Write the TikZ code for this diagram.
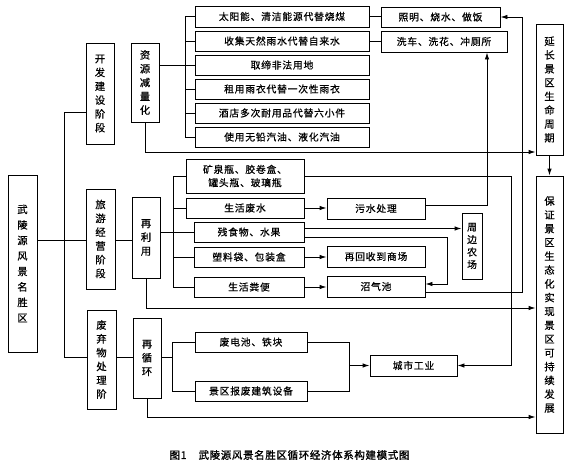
\documentclass[tikz,border=0pt]{standalone}
\usepackage{fontspec}
\newfontfamily\cjk[LetterSpace=8,FakeBold=0.6]{Noto Sans CJK SC}
\newfontfamily\cjkv[FakeBold=0.6]{Noto Sans CJK SC}
\newfontfamily\cjkc[LetterSpace=6,FakeBold=1.2]{Noto Sans CJK SC}
\usetikzlibrary{arrows.meta,calc}
\begin{document}
\begin{tikzpicture}[x=1pt,y=-1pt,
  box/.style={draw, line width=0.9pt, inner sep=0pt, align=center, font=\cjk\fontsize{9.8}{13.3}\selectfont},
  hbox/.style={box, minimum height=20pt},
  vbox/.style={box, minimum width=28pt, font=\cjkv\fontsize{10.3}{13.8}\selectfont},
  ln/.style={line width=0.9pt},
  ar/.style={line width=0.9pt, -{Latex[length=7pt,width=4.5pt]}}]
\useasboundingbox (0,0) rectangle (570,466);
% left column
\node[vbox, minimum width=29pt, minimum height=177pt, font=\cjkv\fontsize{10.3}{15.5}\selectfont] (main) at (22.5,263.5) {武\\陵\\源\\风\\景\\名\\胜\\区};
\node[vbox, minimum height=101pt] (kf) at (100,93.5) {开\\发\\建\\设\\阶\\段};
\node[vbox, minimum height=79pt] (zy) at (145,82.5) {资\\源\\减\\量\\化};
\node[vbox, minimum width=29pt, minimum height=100pt] (ly) at (100.5,239) {旅\\游\\经\\营\\阶\\段};
\node[vbox, minimum height=81pt] (zly) at (146,237.5) {再\\利\\用};
\node[vbox, minimum width=29pt, minimum height=99pt] (fq) at (101.5,359.5) {废\\弃\\物\\处\\理\\阶};
\node[vbox, minimum height=80pt] (zxh) at (147,358) {再\\循\\环};
% top column
\node[hbox, minimum width=174pt, minimum height=21pt] (t1) at (282,16.5) {太阳能、清洁能源代替烧煤};
\node[hbox, minimum width=174pt] (t2) at (282,41) {收集天然雨水代替自来水};
\node[hbox, minimum width=174pt] (t3) at (282,65) {取缔非法用地};
\node[hbox, minimum width=174pt] (t4) at (282,89) {租用雨衣代替一次性雨衣};
\node[hbox, minimum width=174pt] (t5) at (282,113) {酒店多次耐用品代替六小件};
\node[hbox, minimum width=174pt] (t6) at (282,137) {使用无铅汽油、液化汽油};
\node[hbox, minimum width=119pt] (zm) at (440.5,17) {照明、烧水、做饭};
\node[hbox, minimum width=126pt, minimum height=21pt] (xc) at (444,41.5) {洗车、洗花、冲厕所};
\node[vbox, minimum width=27pt, minimum height=131pt] (yc) at (549.5,89.5) {延\\长\\景\\区\\生\\命\\周\\期};
\node[vbox, minimum width=27pt, minimum height=257pt] (bz) at (549.5,304.5) {保\\证\\景\\区\\生\\态\\化\\实\\现\\景\\区\\可\\持\\续\\发\\展};
% middle
\node[hbox, minimum width=118pt, minimum height=34pt] (m1) at (245,176) {矿泉瓶、胶卷盒、\\罐头瓶、玻璃瓶};
\node[hbox, minimum width=118pt] (m2) at (245,208) {生活废水};
\node[hbox, minimum width=110pt] (m3) at (249,232) {残食物、水果};
\node[hbox, minimum width=110pt] (m4) at (249,257) {塑料袋、包装盒};
\node[hbox, minimum width=110pt] (m5) at (249,287) {生活粪便};
\node[hbox, minimum width=98pt, minimum height=21pt] (ws) at (376,208.5) {污水处理};
\node[hbox, minimum width=98pt, minimum height=21pt] (hs) at (376,256.5) {再回收到商场};
\node[hbox, minimum width=98pt, minimum height=21pt] (zq) at (376,286.5) {沼气池};
\node[vbox, minimum width=20pt, minimum height=66pt, font=\cjkv\fontsize{9.8}{12.5}\selectfont] (nc) at (472,246) {周\\边\\农\\场};
\node[hbox, minimum width=87pt, minimum height=21pt] (cs) at (413.5,365.5) {城市工业};
\node[hbox, minimum width=112pt] (c1) at (251,342) {废电池、铁块};
\node[hbox, minimum width=112pt] (c2) at (251,391) {景区报废建筑设备};
% caption
\node[font=\cjkc\fontsize{10.5}{12}\selectfont, inner sep=0pt] (cap) at (289.5,455) {图1\hspace{12pt}武陵源风景名胜区循环经济体系构建模式图};
% stage connectors
\coordinate (s1) at (64,112);
\coordinate (s2) at (64,357);
\draw[ln] (kf.west |- s1) -- (s1) -- (s2) -- (fq.west |- s2);
\draw[ln] (main.east |- 0,240) -- (ly.west |- 0,240);
\draw[ln] (ly.east |- 0,240) -- (zly.west |- 0,240);
\draw[ln] (fq.east |- s2) -- (zxh.west |- s2);
% reduce bracket
\coordinate (b1) at (185,0);
\draw[ln] (zy.east |- 0,65) -- (b1 |- 0,65);
\draw[ln] (b1 |- t1) -- (b1 |- t6);
\foreach \i in {1,...,6} \draw[ln] (b1 |- t\i) -- (t\i.west);
\draw[ar] (zy.south) |- (yc.west |- 0,152);
\draw[ln] (t1.east) -- (zm.west |- t1.east);
\draw[ln] (t2.east) -- (xc.west |- t2.east);
\draw[ar] (yc.south) -- (bz.north);
% reuse
\coordinate (r1) at (522,0);
\draw[ar] (zq.east |- 0,292) -- (r1 |- 0,292) -- (r1 |- zm.east) -- (zm.east);
\coordinate (r2) at (487,0);
\draw[ar] (ws.east |- 0,205) -- (r2 |- 0,205) -- (r2 |- xc.south);
\coordinate (b2) at (173,0);
\draw[ln] (zly.east |- 0,232) -- (b2 |- 0,232);
\draw[ln] (b2 |- m1) -- (b2 |- m5);
\foreach \i in {1,...,5} \draw[ln] (b2 |- m\i) -- (m\i.west);
\draw[ar] (m2.east) -- (ws.west |- m2.east);
\draw[ar] (m4.east) -- (hs.west |- m4.east);
\draw[ar] (m5.east) -- (zq.west |- m5.east);
\draw[ar] (m3.east |- 0,228.5) -- (nc.west |- 0,228.5);
\coordinate (r3) at (447,0);
\draw[ar] (m3.east |- 0,237) -- (r3 |- 0,237) -- (r3 |- 0,284) -- (zq.east |- 0,284);
\coordinate (r4) at (511,0);
\draw[ar] (m1.east) -- (r4 |- m1.east) -- (r4 |- cs.east) -- (cs.east);
\draw[ar] (zly.south) |- (bz.west |- 0,308);
% recycle
\coordinate (b3) at (172,0);
\draw[ln] (zxh.east |- s2) -- (b3 |- s2);
\draw[ln] (b3 |- c1) -- (b3 |- c2);
\foreach \i in {1,2} \draw[ln] (b3 |- c\i) -- (c\i.west);
\coordinate (r5) at (349,0);
\draw[ln] (c1.east) -- (r5 |- c1.east) -- (r5 |- c2.east) -- (c2.east);
\draw[ar] (r5 |- cs.west) -- (cs.west);
\draw[ar] (zxh.south) |- (bz.west |- 0,417);
\end{tikzpicture}
\end{document}
